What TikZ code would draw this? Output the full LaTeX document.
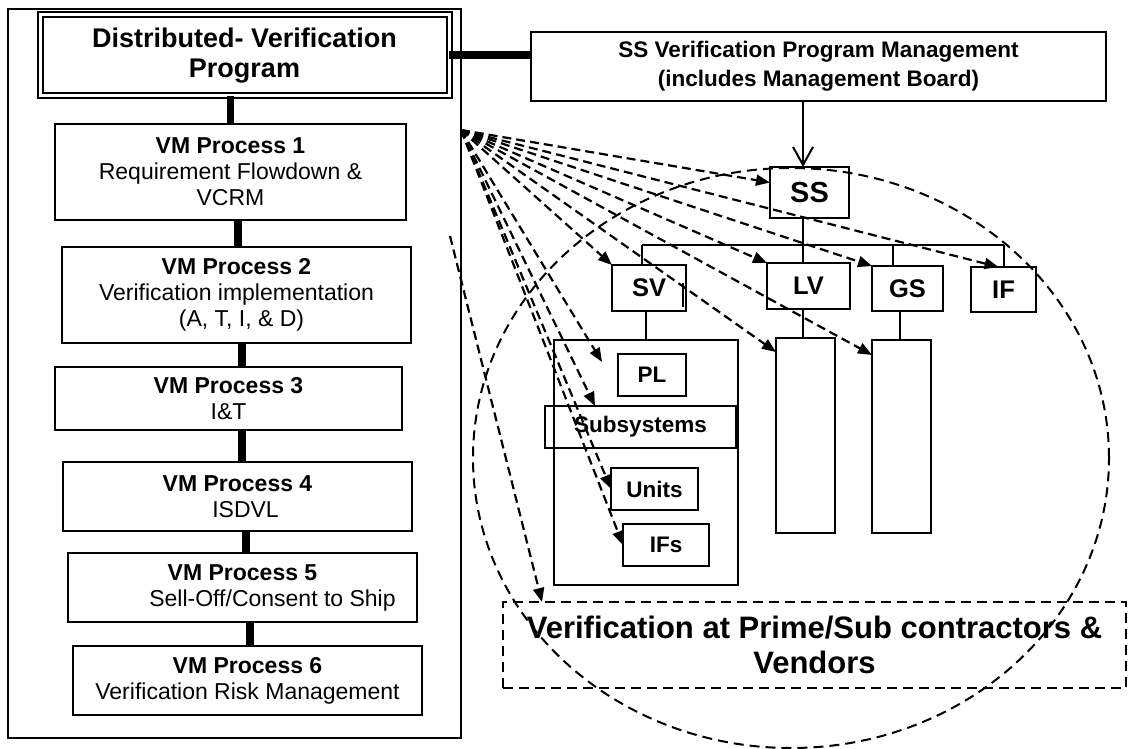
\documentclass[tikz,border=0pt]{standalone}
\usepackage{fontspec}
\setmainfont{Liberation Sans}
\usetikzlibrary{arrows.meta}
\begin{document}
\begin{tikzpicture}[x=1pt,y=-1pt,
  sz/.style 2 args={minimum width=#1pt, minimum height=#2pt},
  box/.style={draw, line width=2.2pt, inner sep=0pt, outer sep=0pt, align=center},
  proc/.style={box, font=\fontsize{23pt}{26pt}\selectfont},
  unit/.style={box, font=\fontsize{25.5pt}{28pt}\selectfont\bfseries},
  part/.style={box, font=\fontsize{22.5pt}{26pt}\selectfont\bfseries},
  bar/.style={line width=7.5pt},
  link/.style={line width=2pt},
  flow/.style={line width=2.2pt, dash pattern=on 9pt off 5pt,
    -{Triangle[length=14pt,width=11pt]}},
  zone/.style={line width=2pt, dash pattern=on 10pt off 6pt},
]
\useasboundingbox (0,0) rectangle (1129,749);

% ---- left column: program and its six processes ----
\node[box, sz={453}{729}] (frame) at (234.5,373.5) {};
\node[draw, double, double distance=3pt, line width=2pt, inner sep=0pt, outer sep=0pt,
  sz={409}{81.5}, align=center, font=\fontsize{27pt}{30pt}\selectfont\bfseries]
  (dvp) at (244.5,55.25) {Distributed- Verification\\Program};

\node[proc, sz={351}{96}] (vm1) at (230.5,172)
  {\textbf{VM Process 1}\\Requirement Flowdown \&\\VCRM};
\node[proc, sz={349}{96}] (vm2) at (236.5,295)
  {\textbf{VM Process 2}\\Verification implementation\\\hspace*{10pt}(A, T, I, \& D)};
\node[proc, sz={347}{63}] (vm3) at (228.5,398.5)
  {\textbf{VM Process 3}\\I\&T};
\node[proc, sz={349}{69}] (vm4) at (237.5,496.5)
  {\textbf{VM Process 4}\\\hspace*{16pt}ISDVL};
\node[proc, sz={349}{69}] (vm5) at (242.5,587.5)
  {\textbf{VM Process 5}\\\hspace*{60pt}Sell-Off/Consent to Ship};
\node[proc, sz={349}{69}] (vm6) at (247.5,680.5)
  {\textbf{VM Process 6}\\Verification Risk Management};

% thick links down the column
\draw[bar] (dvp.south -| vm1.north) -- (vm1.north);
\coordinate (j2) at ([xshift=7.5pt]vm1.south);
\draw[bar] (j2) -- (j2 |- vm2.north);
\coordinate (j3) at ([xshift=5.5pt]vm2.south);
\draw[bar] (j3) -- (j3 |- vm3.north);
\coordinate (j4) at ([xshift=13.5pt]vm3.south);
\draw[bar] (j4) -- (j4 |- vm4.north);
\coordinate (j5) at ([xshift=8.5pt]vm4.south);
\draw[bar] (j5) -- (j5 |- vm5.north);
\coordinate (j6) at ([xshift=7.5pt]vm5.south);
\draw[bar] (j6) -- (j6 |- vm6.north);

% ---- management and system tree ----
\node[box, sz={575}{69}, font=\fontsize{22.5pt}{29pt}\selectfont\bfseries]
  (mgmt) at (818.5,66.5) {SS Verification Program Management\\(includes Management Board)};
\draw[bar] (dvp.east) -- (mgmt.west |- dvp.east);

\node[box, sz={79}{51}, font=\fontsize{29pt}{32pt}\selectfont\bfseries] (ss) at (809.5,192.5) {SS};
\node[unit, sz={74}{46}] (sv) at (649,288) {SV};
\node[unit, sz={83}{46}] (lv) at (808.5,286) {LV};
\node[unit, sz={71}{45}] (gs) at (907.5,288.5) {GS};
\node[unit, sz={65}{45}] (ifb) at (1003.5,289.5) {IF};

\coordinate (ssj) at ([xshift=-6.5pt]ss.south);
\draw[link, -{Straight Barb[length=18pt,width=20pt]}] (ssj |- mgmt.south) -- (ssj |- ss.north);
\draw[link] (ssj) -- (ssj |- lv.north);

\coordinate (busL) at (642,245);
\coordinate (busR) at (ifb.north |- busL);
\draw[link] (busL) -- (busR);
\draw[link] (busL) -- (busL |- sv.north);
\draw[link] (busR) -- (ifb.north);
\coordinate (gsj) at ([xshift=-14.5pt]gs.north);
\draw[link] (gsj |- busL) -- (gsj);
\draw[line width=2.5pt] ([xshift=-3pt,yshift=5pt]sv.east) -- ([xshift=-3pt,yshift=-19pt]sv.east);

% space vehicle breakdown and the two empty columns
\node[box, sz={184}{245}] (svc) at (646,462.5) {};
\coordinate (svj) at ([xshift=-3pt]sv.south);
\draw[link] (svj) -- (svj |- svc.north);
\node[part, sz={68}{42}] (pl) at (652,375) {PL};
\node[part, sz={191}{42}, line width=2.6pt] (subsys) at (640.5,427) {Subsystems};
\node[part, sz={87}{42}] (units) at (654.5,489) {Units};
\node[part, sz={86}{42}] (ifs) at (666,545) {IFs};

\node[box, sz={59}{195}] (lvt) at (805.5,435.5) {};
\node[box, sz={59}{193}] (gst) at (901.5,436.5) {};
\draw[link] (ssj |- lv.south) -- (ssj |- lvt.north);
\coordinate (gsk) at ([xshift=-7.5pt]gs.south);
\draw[link] (gsk) -- (gsk |- gst.north);

% ---- contractor level ----
\node[draw, zone, inner sep=0pt, outer sep=0pt, sz={623}{86}, align=center,
  font=\fontsize{31pt}{35pt}\selectfont\bfseries]
  (vend) at (814.5,645) {Verification at Prime/Sub contractors \&\\Vendors};
\draw[zone] (791,458) ellipse [x radius=318pt, y radius=290pt];

% ---- distribution of verification work ----
\coordinate (hub) at ([yshift=-121pt]frame.north east);
\coordinate (hub2) at (450,236);
\draw[flow] (hub) -- ([yshift=10pt]ss.west);
\draw[flow] (hub) -- (sv.north west);
\draw[flow] (hub) -- (lv.north west);
\draw[flow] (hub) -- (gs.north west);
\draw[flow] (hub) -- ([xshift=-5pt]ifb.north);
\draw[flow] (hub) -- ([yshift=-14pt]lvt.north west);
\draw[flow] (hub) -- ([yshift=-15pt]gst.north west);
\draw[flow] (hub) -- ([xshift=-16pt,yshift=13pt]pl.west);
\draw[flow] (hub) -- ([xshift=50pt]subsys.north west);
\draw[flow] (hub) -- (units.west);
\draw[flow] (hub) -- (ifs.west);
\draw[flow] (hub2) -- ([xshift=39pt]vend.north west);
\end{tikzpicture}
\end{document}
